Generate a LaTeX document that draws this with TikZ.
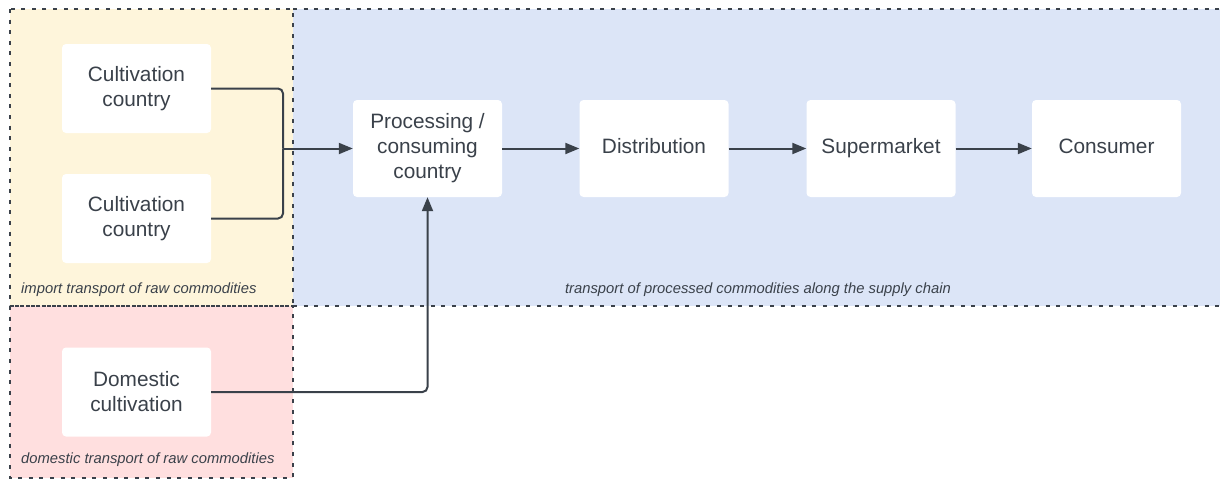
\documentclass[tikz,border=0pt]{standalone}
\usepackage{fontspec}
\setmainfont{Liberation Sans}
\usetikzlibrary{arrows.meta}

\definecolor{ink}{HTML}{3A414A}
\definecolor{importbg}{HTML}{FEF5DB}
\definecolor{chainbg}{HTML}{DCE5F7}
\definecolor{domesticbg}{HTML}{FFDFDF}

\begin{document}
\begin{tikzpicture}[x=1pt,y=-1pt,
  stagebox/.style={fill=white, rounded corners=4pt, minimum width=149pt,
    minimum height=89pt, align=center, text=ink,
    font=\fontsize{20.8}{25}\selectfont, inner sep=0pt},
  zonelabel/.style={text=ink, font=\fontsize{14.8}{16}\selectfont\itshape, inner sep=0pt},
  zoneborder/.style={draw=ink, line width=2.2pt, dash pattern=on 4pt off 6.6pt},
  flow/.style={draw=ink, line width=2pt, rounded corners=5pt},
  flowarrow/.style={flow, -{Triangle[length=14pt,width=11pt]}}
]
\useasboundingbox (0,0) rectangle (1220,479);

% zone backgrounds
\fill[importbg] (10,9) rectangle (293,306);
\fill[chainbg] (293,9) rectangle (1220,306);
\fill[domesticbg] (10,306) rectangle (293,478);

% zone borders
\draw[zoneborder] (10,9) rectangle (293,306);
\draw[zoneborder] (10,306) rectangle (293,478);
\draw[zoneborder] (293,9) -- (1220,9);
\draw[zoneborder] (293,306) -- (1220,306);

% zone captions
\node[zonelabel, anchor=west] (limport) at (21,290) {import transport of raw commodities};
\node[zonelabel, anchor=west] (ldomestic) at (21,460) {domestic transport of raw commodities};
\node[zonelabel] (lchain) at (758,290) {transport of processed commodities along the supply chain};

% stages
\node[stagebox] (cult1) at (136.5,88.5) {Cultivation\\country};
\node[stagebox] (cult2) at (136.5,218.5) {Cultivation\\country};
\node[stagebox] (dom) at (136.5,392) {Domestic\\cultivation};
\node[stagebox, minimum height=97pt] (proc) at (427.5,148.5) {Processing /\\consuming\\country};
\node[stagebox, minimum height=97pt] (dist) at (654,148.5) {Distribution\strut};
\node[stagebox, minimum height=97pt] (super) at (881,148.5) {Supermarket\strut};
\node[stagebox, minimum height=97pt] (cons) at (1106.5,148.5) {Consumer\strut};

% flows
\coordinate (merge) at (283,148.5);
\draw[flow] (cult1.east) -| (merge);
\draw[flow] (cult2.east) -| (merge);
\draw[flowarrow] (merge) -- (proc.west);
\draw[flowarrow] (dom.east) -| (proc.south);
\draw[flowarrow] (proc.east) -- (dist.west);
\draw[flowarrow] (dist.east) -- (super.west);
\draw[flowarrow] (super.east) -- (cons.west);
\end{tikzpicture}
\end{document}
